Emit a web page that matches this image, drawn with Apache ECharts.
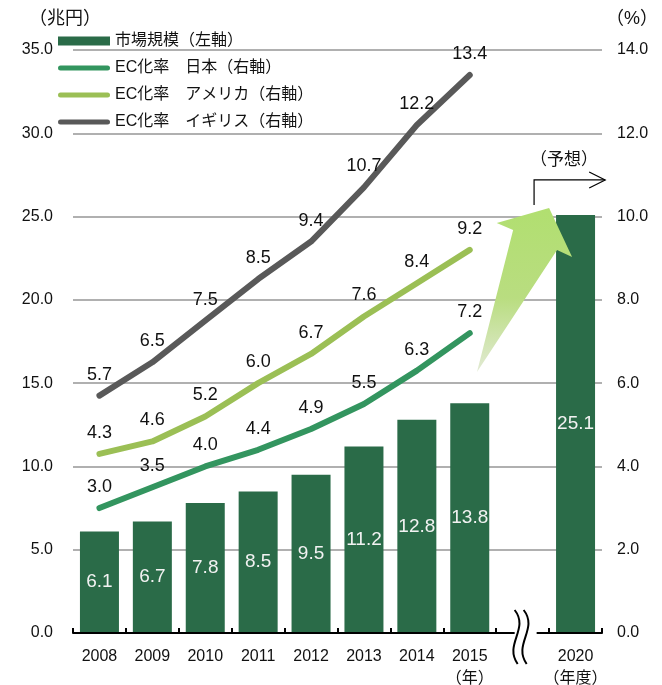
<!DOCTYPE html>
<html>
<head>
<meta charset="utf-8">
<script src="https://cdn.jsdelivr.net/npm/echarts@6/dist/echarts.min.js"></script>
<style>
  html, body { margin: 0; padding: 0; background: #fff; }
  #main { width: 662px; height: 685px; }
</style>
</head>
<body>
<div id="main"></div>
<script>
// 年（2015と2020の間は省略）
const categories = ['2008', '2009', '2010', '2011', '2012', '2013', '2014', '2015', '', '2020']
const unitLabels = { '2015': '（年）', '2020': '（年度）' }
// 市場規模（兆円）
const marketSize = [6.1, 6.7, 7.8, 8.5, 9.5, 11.2, 12.8, 13.8, '-', 25.1]
// EC化率（%）
const ecJapan = [3.0, 3.5, 4.0, 4.4, 4.9, 5.5, 6.3, 7.2]
const ecAmerica = [4.3, 4.6, 5.2, 6.0, 6.7, 7.6, 8.4, 9.2]
const ecUK = [5.7, 6.5, 7.5, 8.5, 9.4, 10.7, 12.2, 13.4]
const leftTicks = { min: 0, max: 35, interval: 5 }
const rightTicks = { min: 0, max: 14, interval: 2 }

const FONT = "'Liberation Sans', 'Noto Sans CJK JP', sans-serif"
const fmt1 = v => Number(v).toFixed(1)
// 凡例の線アイコン（太い丸端の線）
const lineIcon = 'path://M2.5,0 H49.5 A2.5,2.5 0 0 1 49.5,5 H2.5 A2.5,2.5 0 0 1 2.5,0 Z'

let chart = undefined

function lineSeries(name, data, color) {
  return {
    name: name,
    type: 'line',
    yAxisIndex: 1,
    data: data,
    symbol: 'circle',
    symbolSize: 0,
    lineStyle: { color: color, width: 6, cap: 'round', join: 'round' },
    itemStyle: { color: color },
    label: {
      show: true,
      position: 'top',
      distance: 12,
      color: '#111',
      fontSize: 18,
      fontFamily: FONT,
      formatter: p => fmt1(p.value)
    },
    z: 3
  }
}

function initChart() {
  chart = echarts.init(document.getElementById('main'))

  const option = {
    animation: false,
    textStyle: { fontFamily: FONT },
    grid: { left: 73, right: 60, top: 50, bottom: 52, containLabel: false, outerBoundsMode: 'none' },
    legend: {
      orient: 'vertical',
      left: 58,
      top: 33,
      padding: 0,
      itemWidth: 52,
      itemHeight: 9,
      itemGap: 11,
      symbolKeepAspect: true,
      textStyle: { fontSize: 16, color: '#111', fontFamily: FONT },
      data: [
        { name: '市場規模（左軸）', icon: 'rect' },
        { name: 'EC化率　日本（右軸）', icon: lineIcon },
        { name: 'EC化率　アメリカ（右軸）', icon: lineIcon },
        { name: 'EC化率　イギリス（右軸）', icon: lineIcon }
      ]
    },
    xAxis: {
      type: 'category',
      data: categories,
      z: 4,
      axisLine: { show: true, onZero: false, lineStyle: { color: '#000', width: 2 } },
      axisTick: { show: true, interval: 0, inside: true, length: 5, lineStyle: { color: '#000', width: 2 } },
      axisLabel: {
        interval: 0,
        color: '#111',
        fontSize: 16,
        margin: 13,
        lineHeight: 22,
        formatter: v => unitLabels[v] ? v + '\n' + unitLabels[v] : v
      }
    },
    yAxis: [
      {
        type: 'value',
        min: leftTicks.min,
        max: leftTicks.max,
        interval: leftTicks.interval,
        name: '（兆円）',
        nameLocation: 'end',
        nameGap: 22,
        nameTextStyle: { fontSize: 18, color: '#111', padding: [0, 16, 0, 0] },
        axisLine: { show: false },
        axisTick: { show: false },
        axisLabel: { color: '#111', fontSize: 16, margin: 20, formatter: fmt1 },
        splitLine: { lineStyle: { color: '#b0b0b0', width: 2 } }
      },
      {
        type: 'value',
        min: rightTicks.min,
        max: rightTicks.max,
        interval: rightTicks.interval,
        name: '（%）',
        nameLocation: 'end',
        nameGap: 22,
        nameTextStyle: { fontSize: 18, color: '#111', align: 'left', padding: [0, 0, 0, 4] },
        axisLine: { show: false },
        axisTick: { show: false },
        axisLabel: { color: '#111', fontSize: 16, margin: 15, formatter: fmt1 },
        splitLine: { show: false }
      }
    ],
    series: [
      {
        name: '市場規模（左軸）',
        type: 'bar',
        data: marketSize,
        barWidth: 39,
        itemStyle: { color: '#2a6b48' },
        label: {
          show: true,
          position: 'inside',
          color: '#f2f2f2',
          fontSize: 19,
          fontFamily: FONT,
          formatter: p => fmt1(p.value)
        },
        z: 2
      },
      lineSeries('EC化率　日本（右軸）', ecJapan, '#33955f'),
      lineSeries('EC化率　アメリカ（右軸）', ecAmerica, '#9bbf55'),
      lineSeries('EC化率　イギリス（右軸）', ecUK, '#595959')
    ]
  }

  chart.setOption(option)
  chart.setOption({ graphic: buildGraphic() })
}

// 省略記号・予想の矢印などの飾り
function buildGraphic() {
  const x0 = chart.convertToPixel({ xAxisIndex: 0 }, 0)
  const band = chart.convertToPixel({ xAxisIndex: 0 }, 1) - x0
  const px = k => x0 + band * k
  const py = v => chart.convertToPixel({ yAxisIndex: 0 }, v)
  const pt = (k, v) => [px(k), py(v)]
  const yBase = py(0)
  const xGap = px(8)

  const arrow = [
    pt(7.137, 15.67), pt(7.82, 24.19), pt(7.51, 24.61),
    pt(8.50, 25.51), pt(8.935, 22.57), pt(8.65, 22.99)
  ]
  const bx = px(8.216), by0 = py(25.7), by1 = py(27.2), bx1 = px(9.56)
  const wave = dx => ({
    type: 'bezierCurve', z: 101,
    shape: {
      x1: xGap + dx - 8, y1: yBase - 23,
      cpx1: xGap + dx + 7, cpy1: yBase - 4,
      cpx2: xGap + dx - 19, cpy2: yBase + 11,
      x2: xGap + dx - 5, y2: yBase + 31
    },
    style: { stroke: '#000', lineWidth: 2, fill: null }
  })

  return [
    {
      type: 'rect', z: 100,
      shape: { x: xGap - 8, y: yBase - 6, width: 22, height: 8 },
      style: { fill: '#fff' }
    },
    wave(0),
    wave(9),
    {
      type: 'polygon', z: 50,
      shape: { points: arrow },
      style: {
        fill: new echarts.graphic.LinearGradient(0, 1, 0, 0, [
          { offset: 0, color: '#e2ead4' },
          { offset: 0.45, color: '#b9dd80' },
          { offset: 1, color: '#b1df70' }
        ])
      }
    },
    {
      type: 'polyline', z: 50,
      shape: { points: [[bx, by0], [bx, by1], [bx1, by1]] },
      style: { stroke: '#000', lineWidth: 1.2, fill: null }
    },
    {
      type: 'polyline', z: 50,
      shape: { points: [[bx1 - 16, by1 - 8], [bx1, by1], [bx1 - 16, by1 + 8]] },
      style: { stroke: '#000', lineWidth: 1.2, fill: null }
    },
    {
      type: 'text', z: 50,
      x: px(8.78), y: py(28.4),
      style: { text: '（予想）', fontSize: 17, fontFamily: FONT, fill: '#111', align: 'center', verticalAlign: 'middle' }
    }
  ]
}

initChart()
</script>
</body>
</html>
